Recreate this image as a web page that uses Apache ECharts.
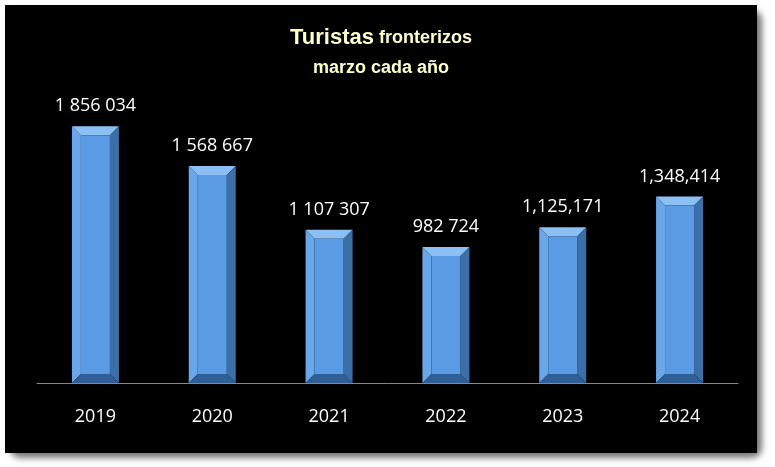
<!DOCTYPE html>
<html><head><meta charset="utf-8">
<script src="https://cdn.jsdelivr.net/npm/echarts@6/dist/echarts.min.js"></script>
<style>
html,body{margin:0;padding:0;background:#fff;width:775px;height:467px;overflow:hidden}
#frame{position:absolute;left:5px;top:5px;width:752px;height:448px;background:#000;border-radius:10px;box-shadow:5px 5px 6px #777;}
#c{width:752px;height:448px}
</style></head><body>
<div id="frame"><div id="c"></div></div>
<script>
const years = ['2019','2020','2021','2022','2023','2024'];
const tourists = [1856034, 1568667, 1107307, 982724, 1125171, 1348414];
const labels = ['1 856 034','1 568 667','1 107 307','982 724','1,125,171','1,348,414'];

const chart = echarts.init(document.getElementById('c'));
function renderBar(params, api){
  const x = api.value(0), v = api.value(1);
  const top = api.coord([x, v]), base = api.coord([x, 0]);
  const w = 47, b = 9;
  const l = top[0]-w/2, r = top[0]+w/2, t = top[1], bt = base[1];
  const poly = (pts, fill) => ({type:'polygon', shape:{points:pts}, style:{fill}});
  return {type:'group', children:[
    poly([[l,t],[r,t],[r-b,t+b],[l+b,t+b]], '#8cc0f5'),
    poly([[l,t],[l+b,t+b],[l+b,bt-b],[l,bt]], '#6aa6ea'),
    poly([[r,t],[r,bt],[r-b,bt-b],[r-b,t+b]], '#3b6fa8'),
    poly([[l,bt],[l+b,bt-b],[r-b,bt-b],[r,bt]], '#2f5f96'),
    {type:'rect', shape:{x:l+b,y:t+b,width:w-2*b,height:bt-t-2*b}, style:{fill:'#5b9be3'}},
    {type:'text', style:{text:labels[params.dataIndex], x:top[0], y:t-11, align:'center', verticalAlign:'bottom', fill:'#fff', font:'18px "Open Sans", sans-serif'}}
  ]};
}
chart.setOption({
  backgroundColor:'#000',
  animation:false,
  title:{
    text:'{a|Turistas} {b|fronterizos}\n{b|marzo cada año}',
    left:'center', top:13,
    textStyle:{rich:{
      a:{fontSize:22,fontWeight:'bold',color:'#ffffc8',fontFamily:'Liberation Sans',lineHeight:30},
      b:{fontSize:18,fontWeight:'bold',color:'#ffffc8',fontFamily:'Liberation Sans',lineHeight:30}
    }}
  },
  grid:{left:32,right:19,top:46,bottom:70},
  xAxis:{type:'category',data:years,axisLine:{lineStyle:{color:'#888'}},axisTick:{show:false},
    axisLabel:{color:'#fff',fontSize:18,margin:25,fontFamily:'Open Sans'}},
  yAxis:{type:'value',min:0,max:2400000,show:false,splitLine:{show:false}},
  series:[{type:'custom',renderItem:renderBar,data:tourists.map((v,i)=>[i,v])}]
});
</script></body></html>
